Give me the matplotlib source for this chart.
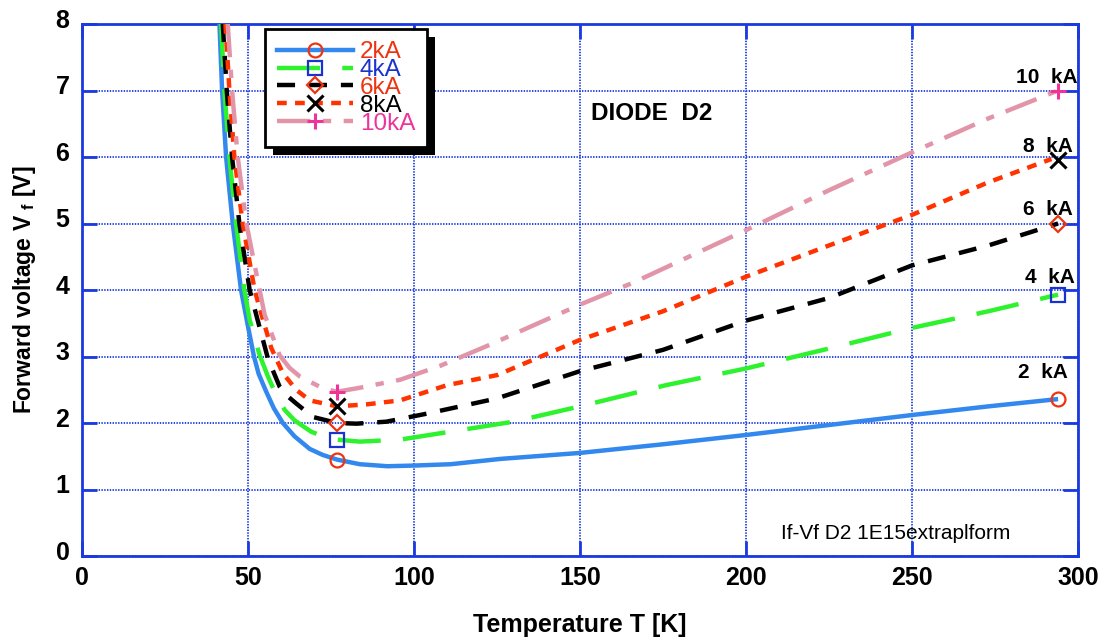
import matplotlib
matplotlib.use("Agg")
import matplotlib.pyplot as plt
from matplotlib.lines import Line2D
from matplotlib.patches import Rectangle
from matplotlib.transforms import ScaledTranslation

plt.rcParams['font.family'] = ['Liberation Sans', 'DejaVu Sans']
plt.rcParams['mathtext.default'] = 'regular'
plt.rcParams['lines.scale_dashes'] = False

# data (T in K, Vf in V)
t_2ka = [41.4, 42.2, 43.4, 45.4, 47.9, 50.0, 51.8, 53.2, 55.5, 57.8, 60.5, 64.0, 68.6, 72.5, 76.8, 83.7, 92, 100, 111, 126, 150, 175, 200, 225, 250, 273, 294]
v_2ka = [8.0, 7.0, 6.0, 5.0, 4.0, 3.45, 3.0, 2.74, 2.47, 2.22, 2.0, 1.8, 1.61, 1.52, 1.45, 1.38, 1.35, 1.36, 1.38, 1.46, 1.55, 1.68, 1.82, 1.97, 2.12, 2.25, 2.36]

t_4ka = [41.9, 42.9, 44.4, 46.4, 48.9, 50.5, 53.5, 56.0, 58.5, 61.0, 64.0, 69.0, 74.6, 76.8, 83.7, 95.8, 111, 130, 150, 176, 200, 225, 250, 273, 294]
v_4ka = [8.0, 7.0, 6.0, 5.0, 4.0, 3.55, 3.02, 2.7, 2.42, 2.2, 2.04, 1.87, 1.76, 1.75, 1.72, 1.75, 1.87, 2.02, 2.25, 2.57, 2.82, 3.12, 3.43, 3.68, 3.93]

t_6ka = [42.4, 43.6, 45.2, 47.4, 50.5, 53.0, 56.0, 59.5, 62.0, 64.6, 69.6, 76.8, 82.7, 91.7, 103.8, 125, 150, 175, 200, 225, 250, 273, 294]
v_6ka = [8.0, 7.0, 6.0, 5.0, 4.0, 3.53, 2.97, 2.55, 2.4, 2.29, 2.09, 2.0, 1.99, 2.02, 2.14, 2.37, 2.78, 3.10, 3.54, 3.88, 4.37, 4.67, 5.0]

t_8ka = [43.2, 44.4, 45.9, 48.4, 52.0, 53.5, 57.0, 60.5, 64.5, 68.6, 76.8, 85.7, 95.8, 110, 125, 150, 175, 200, 225, 250, 273, 292]
v_8ka = [8.0, 7.0, 6.0, 5.0, 4.0, 3.73, 3.13, 2.75, 2.5, 2.34, 2.25, 2.28, 2.34, 2.57, 2.72, 3.25, 3.68, 4.2, 4.67, 5.13, 5.62, 5.97]

t_10ka = [43.9, 45.2, 46.9, 49.5, 53.5, 55.0, 59.5, 62.5, 65.6, 72.6, 76.8, 83.7, 95.8, 107.9, 123, 150, 166, 200, 225, 250, 273, 294]
v_10ka = [8.0, 7.0, 6.0, 5.0, 4.0, 3.63, 3.02, 2.83, 2.70, 2.52, 2.47, 2.53, 2.65, 2.86, 3.18, 3.78, 4.11, 4.9, 5.5, 6.07, 6.58, 7.0]

# marker points: at 77 K and at room temperature
t_marks = [76.8, 294]
m_2ka = [1.45, 2.36]
m_4ka = [1.75, 3.93]
m_6ka = [2.0, 5.0]
m_8ka = [2.25, 5.96]
m_10ka = [2.47, 7.0]

labels = ['2kA', '4kA', '6kA', '8kA', '10kA']
end_labels = ['2  kA', '4  kA', '6  kA', '8  kA', '10  kA']

BLUE_AX = '#1a3adf'

series = [
    (t_2ka, v_2ka, m_2ka, '#3388ee', '-', 'o', '#ee3311'),
    (t_4ka, v_4ka, m_4ka, '#2ef22e', (0, (31, 16)), 's', '#1a33cc'),
    (t_6ka, v_6ka, m_6ka, 'black', (0, (13, 10)), 'D', '#ee3311'),
    (t_8ka, v_8ka, m_8ka, '#ff3300', (0, (7, 6)), 'x', 'black'),
    (t_10ka, v_10ka, m_10ka, '#e295a8', (0, (24, 9, 6, 9)), '+', '#ee3399'),
]
label_colors = ['#ee3311', '#1a33cc', '#ee3311', 'black', '#ee3399']

fig = plt.figure(figsize=(11.02, 6.39), dpi=100)
ax = fig.add_axes([82/1102, 1-556/639, 996/1102, 532/639])

handles = []
for (t, v, m, col, ls, mk, mcol), lab in zip(series, labels):
    ax.plot(t, v, color=col, ls=ls, lw=3.2, solid_capstyle='butt', dash_capstyle='butt', zorder=3)
    ms = 11 if mk in ('x', '+') else 10
    mew = 2.2 if mk in ('x', '+') else 1.6
    msz = ms - 2 if mk == 'D' else ms
    ax.plot(t_marks, m, ls='none', marker=mk, ms=msz, mfc='none', mec=mcol, mew=mew, zorder=4)
    handles.append(Line2D([], [], color=col, ls=ls, lw=3.2, marker=mk, ms=msz, mfc='none',
                          mec=mcol, mew=mew, dash_capstyle='butt'))

ax.set_xlim(0, 300)
ax.set_ylim(0, 8)
ax.set_xticks(range(0, 301, 50))
ax.set_yticks(range(0, 9))
ax.grid(True, color=BLUE_AX, ls=(0, (1, 1)), lw=1.3)
ax.set_axisbelow(True)
for s in ax.spines.values():
    s.set_color(BLUE_AX)
    s.set_linewidth(2)
ax.tick_params(direction='in', length=11, width=2, color=BLUE_AX, top=True, right=True,
               labelsize=18)
ax.tick_params(axis='x', pad=7)
ax.tick_params(axis='y', pad=9)
for lbl in ax.get_xticklabels() + ax.get_yticklabels():
    lbl.set_fontweight('bold')
for lbl in ax.get_yticklabels():
    lbl.set_transform(lbl.get_transform() + ScaledTranslation(0, 4/72, fig.dpi_scale_trans))

ax.set_xlabel('Temperature T [K]', fontsize=18, fontweight='bold')
ax.xaxis.set_label_coords(0.5, -0.107)
ax.set_ylabel(r'Forward voltage V $_{f}$ [V]', fontsize=16.5, fontweight='bold')
ax.yaxis.set_label_coords(-0.044, 0.5)

# curve labels at room temperature end
end_pos = [(297, 2.67), (299, 4.11), (298.5, 5.13), (298.5, 6.08), (300, 7.11)]
for (x, y), txt in zip(end_pos, end_labels):
    ax.text(x, y, txt, ha='right', va='baseline', fontsize=15, fontweight='bold', zorder=5)

ax.text(153.2, 6.55, 'DIODE  D2', fontsize=17.5, fontweight='bold', va='baseline')
ax.text(210.6, 0.25, 'If-Vf D2 1E15extraplform', fontsize=15, va='baseline')

leg = ax.legend(handles, labels, loc='upper left', bbox_to_anchor=(265/1102, 1-29/639),
                bbox_transform=fig.transFigure, borderaxespad=0, fontsize=17.5,
                handlelength=3.1, handletextpad=0.3, labelspacing=-0.17, numpoints=1,
                fancybox=False, framealpha=1, edgecolor='black', borderpad=0.5)
leg.get_frame().set_linewidth(2)
for txt, c in zip(leg.get_texts(), label_colors):
    txt.set_color(c)
leg.set_zorder(10)

fig.canvas.draw()
bb = leg.get_window_extent()
shadow = Rectangle((bb.x0 + 8, bb.y0 - 8), bb.width, bb.height, transform=None,
                   facecolor='black', edgecolor='none', zorder=9, clip_on=False)
ax.add_patch(shadow)

fig.savefig('out.png', dpi=100)
